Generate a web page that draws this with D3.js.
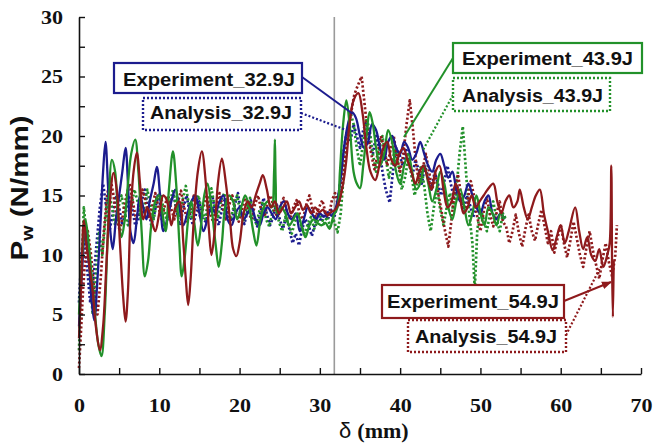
<!DOCTYPE html>
<html><head><meta charset="utf-8">
<script src="https://cdn.jsdelivr.net/npm/d3@7"></script>
<style>
html,body{margin:0;padding:0;background:#fff;}
svg{display:block;}
</style></head>
<body>
<svg id="chart" width="653" height="443"></svg>
<script>
// ---------- DATA ----------
const xTickValues = [0,5,10,15,20,25,30,35,40,45,50,55,60,65,70];
const xTickLabels = [0,10,20,30,40,50,60,70];
const yTickValues = [0,2.5,5,7.5,10,12.5,15,17.5,20,22.5,25,27.5,30];
const yTickLabels = [0,5,10,15,20,25,30];
const impactLine = 31.8;

const seriesNames = ["Analysis_32.9J","Analysis_43.9J","Analysis_54.9J","Experiment_32.9J","Experiment_43.9J","Experiment_54.9J"];

const exp329 = [[0,4],[0.4,9],[0.8,12.5],[1.2,10],[1.6,6],[1.9,4.5],[2.3,8],[2.7,13],[3.0,17],[3.3,19.5],[3.6,16],[3.9,12],[4.2,10.5],[4.6,13],[5.0,15],[5.4,17],[5.8,19],[6.1,16],[6.4,12],[6.8,11],[7.2,13],[7.6,15],[8.0,14],[8.4,13],[8.8,14.5],[9.3,16],[9.7,17.4],[10.1,15],[10.5,12],[11,13],[11.5,14.5],[12,15.5],[12.5,14],[13,12.5],[13.5,13.5],[14,14.5],[14.5,15],[15,13.5],[15.5,12],[16,13],[16.5,14],[17,13.5],[17.5,14.5],[18,15],[18.5,13],[19,12.5],[19.5,13.5],[20,14],[20.5,13],[21,13.5],[21.5,14],[22,13],[22.5,12.5],[23,13.5],[23.5,14],[24,13.5],[24.5,13],[25,14],[25.5,14.5],[26,13.5],[26.5,13],[27,13.5],[27.5,12],[28,13],[28.5,14],[29,13.5],[29.5,13],[30,13.5],[30.5,13.2],[31,13.6],[31.5,13.3],[32,14],[32.5,16],[33,19],[33.5,21],[34,22],[34.5,21.5],[35,20],[35.5,19],[36,19.5],[36.5,21],[37,20.5],[37.5,19],[38,18],[38.5,19.5],[39,20],[39.5,19],[40,18.5],[40.5,19.5],[41,19],[41.5,18],[42,18.5],[42.5,19.5],[43,18.5],[43.5,17.5],[44,17],[44.5,18],[45,18.5],[45.5,17.5],[46,16.5],[46.5,17],[47,15.5],[47.5,14.5],[48,15],[48.5,16],[49,15],[49.5,14],[50,13.5],[50.5,14.5],[51,15],[51.5,13.5],[52,13],[52.5,13.5],[53,13]];

const exp439 = [[0,5],[0.4,10],[0.8,13],[1.2,11],[1.6,8],[2.0,5],[2.4,2.5],[2.8,1.5],[3.2,5],[3.6,12],[4.1,18],[4.5,17],[4.9,13],[5.3,11.5],[5.7,13],[6.1,16],[6.5,18.5],[7.0,19.7],[7.4,17],[7.8,12],[8.2,8.2],[8.6,9.5],[9.0,12.5],[9.5,14.5],[10,15],[10.5,13],[10.8,12],[11.2,15.5],[11.7,18.7],[12.1,16],[12.5,11],[12.8,8.2],[13.2,10],[13.6,13],[14.0,14.5],[14.4,12.5],[14.8,10.8],[15.2,12.5],[15.6,15],[16.0,16],[16.5,14],[17.0,11],[17.4,9.0],[17.8,11],[18.2,14],[18.7,15],[19.2,14.5],[19.7,13],[20.2,14],[20.7,15],[21.2,14],[21.7,12],[22.1,10.8],[22.6,13],[23,14],[23.5,14.5],[24,14],[24.3,17],[24.4,19.7],[24.5,16],[24.7,13.5],[25.2,14],[25.7,13.5],[26.2,12.5],[26.7,13],[27.2,13.5],[27.7,12.5],[28.2,11.5],[28.7,12.5],[29.2,13],[29.7,12.7],[30.2,12.5],[30.7,12.7],[31.2,12.2],[31.7,13.3],[32.2,14],[32.5,17],[32.9,21],[33.3,23],[33.7,21],[34.2,17],[34.6,16],[35.0,15.6],[35.4,17.5],[35.8,20],[36.2,22],[36.6,21],[37,19],[37.5,17.5],[38,18.5],[38.5,20.5],[39,19.5],[39.5,17],[40,16],[40.5,17.5],[41,18.5],[41.5,17],[42,15.5],[42.5,16],[43,17.5],[43.5,16],[44,14.5],[44.5,15.5],[45,17],[45.5,16],[46,14],[46.5,13],[47,14.5],[47.5,15.5],[48,14],[48.5,12.5],[49,13.5],[49.5,15],[50,13.5],[50.5,12.5],[51,14],[51.5,13.5],[52,12.5],[52.5,13.5],[53,13]];

const exp549 = [[0,3],[0.3,8],[0.6,12.9],[0.9,11],[1.3,9],[1.7,7],[2.1,4],[2.6,2.0],[3.0,4],[3.4,9],[3.8,14],[4.3,16.9],[4.7,15.5],[5.1,11],[5.5,6.5],[5.8,4.4],[6.1,7],[6.4,13],[6.8,17],[7.2,18.6],[7.6,16],[8.0,13],[8.5,14],[9,13],[9.5,12],[10,13.5],[10.5,15],[11,14.5],[11.5,12.5],[12,14],[12.5,14.5],[13,11],[13.3,8],[13.6,5.8],[13.9,8],[14.3,13],[14.8,17],[15.3,18.7],[15.8,16],[16.2,12],[16.5,10],[16.9,12],[17.3,16],[17.8,18.1],[18.3,16],[18.8,13],[19.2,10.5],[19.6,9.9],[20,11],[20.5,13.5],[21,14.5],[21.5,14],[22,15],[22.5,16],[22.9,16.7],[23.4,15.5],[23.9,14],[24.4,14.5],[24.9,13.5],[25.4,14],[25.9,14.5],[26.4,13.5],[26.9,14],[27.4,14.5],[27.9,13.8],[28.4,14.2],[28.9,13.5],[29.4,14],[29.9,13.6],[30.4,13.8],[30.9,13.4],[31.4,13.6],[31.9,13.8],[32.4,14.5],[32.9,16],[33.3,18],[33.7,21],[34.2,23],[34.8,23.6],[35.3,22],[35.8,19],[36.3,17],[36.9,16.3],[37.4,17.5],[37.9,19],[38.4,19.5],[38.9,18],[39.4,17.5],[39.9,18.5],[40.4,19],[40.9,18],[41.4,17],[41.9,16],[42.4,17],[42.9,17.5],[43.4,16.5],[43.9,15.5],[44.4,17],[44.9,17.5],[45.4,15.5],[45.9,14],[46.4,14.5],[46.9,16],[47.4,15],[47.9,13.5],[48.4,14],[48.9,15],[49.4,14],[49.9,14.5],[50.4,15],[50.9,15.5],[51.6,16],[52.1,14.5],[52.6,13.5],[53.1,14.5],[53.6,15],[54.1,14],[54.6,14.5],[54.9,15.5],[55.4,14],[55.9,13],[56.4,14],[56.9,15],[57.4,15.5],[57.9,13.5],[58.4,12],[59,10.4],[59.5,11.5],[60,12.5],[60.5,11],[61,12],[61.8,14.0],[62.3,12],[62.8,10.5],[63.3,11.5],[63.8,10],[64.3,9.5],[64.8,10.5],[65.3,9],[65.8,10],[66.1,11],[66.3,17.5],[66.4,9],[66.5,4.8],[66.6,9.5]];

const ana329 = [[0,6],[0.3,10],[0.6,12],[1,9],[1.4,6],[1.8,8],[2.2,11],[2.6,14],[3,16],[3.4,14],[3.8,12],[4.2,13.5],[4.6,15],[5,14],[5.4,12.5],[5.8,13.5],[6.2,15],[6.6,14],[7,12.5],[7.4,13],[7.8,14.5],[8.2,15.5],[8.6,14],[9,12.5],[9.4,13.5],[9.8,15],[10.2,14],[10.6,12],[11,13],[11.4,14.5],[11.8,15],[12.2,13.5],[12.6,12.5],[13,14],[13.4,15],[13.8,13.5],[14.2,12.5],[14.6,13.5],[15,14.5],[15.4,13],[15.8,12.8],[16.2,14],[16.6,15],[17,13.5],[17.4,12.5],[17.8,13.8],[18.2,14.8],[18.6,13.2],[19,12.8],[19.4,14.2],[19.8,15.2],[20.2,13.5],[20.6,12.6],[21,13.8],[21.4,14.6],[21.8,13.2],[22.2,12.4],[22.6,13.6],[23,14.8],[23.4,13.4],[23.8,12.5],[24.2,13.2],[24.6,14.4],[25,13],[25.4,12.2],[25.8,13.2],[26.2,12.2],[26.6,11],[27,11.8],[27.4,10.8],[27.8,12.2],[28.2,13],[28.6,12.5],[29,11.6],[29.4,12.6],[29.8,13.4],[30.2,12.8],[30.6,13.6],[31,13],[31.4,13.8],[31.8,13.2],[32.2,14.2],[32.6,16.5],[33,19],[33.4,20.5],[33.8,19.5],[34.2,21],[34.6,20],[35,19],[35.4,20.5],[35.8,21.2],[36.2,19.5],[36.6,18.5],[37,20],[37.4,19],[37.8,17],[38.2,15.5],[38.7,14.4],[39.1,17],[39.5,19],[39.9,18.5],[40.3,17.5],[40.7,19],[41.1,18],[41.5,16.5],[41.9,18],[42.3,17.2],[42.7,16],[43.1,17.5],[43.5,16.5],[43.9,15.5],[44.3,17],[44.7,16],[45.1,15],[45.5,16.2],[45.9,17.5],[46.3,16],[46.7,14.8],[47.1,15.8],[47.5,14.5],[47.9,13.8],[48.3,15],[48.7,14.2],[49.1,13.2],[49.5,14],[50,13.5]];

const ana439 = [[0,2],[0.3,8],[0.6,14],[0.9,12],[1.3,9],[1.7,5],[2.1,8],[2.5,12],[2.9,10],[3.3,13],[3.7,15.5],[4.1,14],[4.5,12.5],[4.9,14],[5.3,15],[5.7,13.5],[6.1,12.5],[6.5,14],[6.9,15.5],[7.3,14.5],[7.7,13],[8.1,14],[8.5,15.5],[8.9,14.2],[9.3,13],[9.7,14.5],[10.1,15.2],[10.5,14],[10.9,13],[11.3,14.2],[11.7,15.5],[12.1,14],[12.5,13.2],[12.9,14.6],[13.3,15.8],[13.7,14.2],[14.1,13],[14.5,14.4],[14.9,15],[15.3,13.6],[15.7,13],[16.1,14.5],[16.5,15.6],[16.9,14],[17.3,13.2],[17.7,14.6],[18.1,15.2],[18.5,13.8],[18.9,13],[19.3,14.2],[19.7,15],[20.1,13.5],[20.5,12.8],[20.9,14],[21.3,14.8],[21.7,13.4],[22.1,12.6],[22.5,13.8],[22.9,14.5],[23.3,13],[23.7,12.4],[24.1,13.6],[24.5,14.2],[24.9,12.8],[25.3,12],[25.7,13.2],[26.1,12.6],[26.5,11.8],[26.9,12.8],[27.3,13.4],[27.7,12.4],[28.1,11.8],[28.5,12.6],[28.9,13.2],[29.3,12.2],[29.7,12.8],[30.1,13.4],[30.5,12.6],[30.9,13.2],[31.3,12.4],[31.7,13],[32.2,11.9],[32.6,13.5],[33,17],[33.4,20],[33.8,22],[34.2,21],[34.6,19],[35,17.5],[35.4,19.5],[35.8,21.5],[36.2,20.5],[36.6,18.5],[37,17],[37.4,18.8],[37.8,20],[38.2,18.2],[38.6,16.5],[39,17.8],[39.4,19],[39.8,17.5],[40.2,15.5],[40.6,16.5],[41,18],[41.4,16.8],[41.8,15],[42.2,16.2],[42.6,17.5],[43,15.8],[43.4,13.5],[43.8,12],[44.2,14],[44.6,15.5],[45,13.8],[45.4,12.5],[45.8,14],[46.2,15.2],[46.6,13.8],[47,15.5],[47.4,18.5],[47.8,20.8],[48.2,17],[48.6,13.5],[49,11],[49.3,7.1],[49.6,12],[50,14],[50.4,13],[50.8,12],[51.2,13.5],[51.6,14.5],[52,13],[52.4,12],[52.8,13.5],[53.2,13]];

const ana549 = [[0,0.5],[0.2,3],[0.5,7],[0.8,10],[1.1,12],[1.5,10],[1.9,7],[2.3,5],[2.7,8],[3.1,12],[3.5,15],[3.9,16.5],[4.3,15],[4.7,13],[5.1,12],[5.5,13.5],[5.9,15],[6.3,16],[6.7,14.5],[7.1,13],[7.5,14],[7.9,15.5],[8.3,14.5],[8.7,13.2],[9.1,14],[9.5,15.2],[9.9,14],[10.3,13],[10.7,14.2],[11.1,15],[11.5,13.8],[11.9,13],[12.3,14.4],[12.7,15.4],[13.1,14],[13.5,12.8],[13.9,13.8],[14.3,15],[14.7,14.2],[15.1,13.2],[15.5,14],[15.9,15],[16.3,13.6],[16.7,12.8],[17.1,14],[17.5,15.2],[17.9,14],[18.3,13],[18.7,14.2],[19.1,15],[19.5,13.6],[19.9,12.8],[20.3,13.8],[20.7,14.8],[21.1,13.6],[21.5,13],[21.9,14.2],[22.3,15],[22.7,13.8],[23.1,13.2],[23.5,14.4],[23.9,15],[24.3,13.8],[24.7,13.2],[25.1,14.2],[25.5,14.8],[25.9,13.6],[26.3,13],[26.7,14],[27.1,14.6],[27.5,13.4],[27.9,13],[28.3,14.2],[28.7,15],[29.1,13.8],[29.5,13.2],[29.9,14],[30.3,14.6],[30.7,13.6],[31.1,13.2],[31.5,14.6],[31.9,15.2],[32.3,14],[32.7,15.5],[33.1,18],[33.5,20.5],[33.9,22],[34.3,23.5],[34.7,24.2],[35.2,25],[35.6,22.5],[36,20],[36.4,18.5],[36.8,17.2],[37.2,18.5],[37.6,20],[38,19],[38.4,17.5],[38.8,18.8],[39.2,20],[39.6,18.2],[40,17],[40.4,18.5],[40.8,21],[41.2,23],[41.6,20.5],[42,17.5],[42.4,16],[42.8,17.2],[43.2,18.5],[43.6,17],[44,15.5],[44.4,16.8],[44.8,15],[45.2,13.5],[45.6,12],[46,10.7],[46.4,13],[46.8,15.5],[47.2,16.8],[47.6,15],[48,13.5],[48.4,14.5],[48.8,16.2],[49.2,15],[49.6,13.2],[50,12],[50.4,13.6],[50.8,14.8],[51.2,13.4],[51.6,12.4],[52,13.5],[52.4,14.5],[52.8,12.8],[53.2,12.4],[53.6,11],[54,12],[54.4,13.4],[54.8,11.8],[55.2,10.7],[55.6,12.2],[56,13.4],[56.4,12],[56.8,11.2],[57.2,12.6],[57.6,13.8],[58,12.4],[58.4,11],[58.8,12],[59.2,10.2],[59.6,11.4],[60,12.6],[60.4,11],[60.8,9.8],[61.2,11.2],[61.6,12.8],[62,11.4],[62.4,10],[62.8,9],[63.2,10.6],[63.6,12],[64,10.4],[64.4,9.2],[64.8,8],[65.2,9.6],[65.6,11],[66,9.4],[66.4,8.2],[66.8,10],[67,12.5]];

// ---------- CHART ----------
const BLUE = "#1c1c8e", GREEN = "#22912a", RED = "#8e1a1c";
const svg = d3.select("#chart");
const x = d3.scaleLinear().domain([0,70]).range([79,641]);
const y = d3.scaleLinear().domain([0,30]).range([374,17]);

// impact reference line
svg.append("line")
  .attr("x1", x(impactLine)).attr("x2", x(impactLine))
  .attr("y1", y(0)).attr("y2", y(30))
  .attr("stroke", "#9a9a9a").attr("stroke-width", 1.6);

const smooth = d3.line().x(d => x(d[0])).y(d => y(d[1])).curve(d3.curveCatmullRom.alpha(0.5));
const straight = d3.line().x(d => x(d[0])).y(d => y(d[1]));

const series = [
  {data: ana329, color: BLUE, dotted: true},
  {data: ana439, color: GREEN, dotted: true},
  {data: ana549, color: RED, dotted: true},
  {data: exp329, color: BLUE, dotted: false},
  {data: exp439, color: GREEN, dotted: false},
  {data: exp549, color: RED, dotted: false}
];
series.forEach((s,i) => {
  svg.append("path")
    .attr("class", "series s" + i)
    .attr("d", s.dotted ? straight(s.data) : smooth(s.data))
    .attr("fill", "none")
    .attr("stroke", s.color)
    .attr("stroke-width", s.dotted ? 2.7 : 2.3)
    .attr("stroke-dasharray", s.dotted ? "2.2,2.2" : null)
    .attr("stroke-linejoin", "round");
});

// axes
const xAxis = d3.axisBottom(x).tickValues(xTickValues).tickSize(-6).tickSizeOuter(0).tickPadding(25)
  .tickFormat(d => xTickLabels.includes(d) ? d : "");
const yAxis = d3.axisLeft(y).tickValues(yTickValues).tickSize(-6).tickSizeOuter(0).tickPadding(16)
  .tickFormat(d => yTickLabels.includes(d) ? d : "");

const gx = svg.append("g").attr("transform", `translate(0,${y(0)})`).call(xAxis);
const gy = svg.append("g").attr("transform", `translate(${x(0)},0)`).call(yAxis);
[gx, gy].forEach(g => {
  g.select(".domain").attr("stroke", "#111").attr("stroke-width", 1.6);
  g.selectAll(".tick line").attr("stroke", "#111").attr("stroke-width", 1.4);
  g.selectAll(".tick text")
    .attr("fill", "#111")
    .style("font-family", "'Liberation Serif','Times New Roman',serif")
    .style("font-weight", "bold")
    .style("font-size", "19px")
    .each(function(){
      const t = d3.select(this).text();
      if (t.length) d3.select(this).attr("textLength", t.length === 1 ? 11 : 22).attr("lengthAdjust", "spacingAndGlyphs");
    });
});

// axis titles
const xt = svg.append("text").attr("x", 339).attr("y", 438).attr("fill", "#111");
xt.append("tspan").text("δ ").style("font-family", "'Liberation Sans',Arial,sans-serif").style("font-size", "22px");
xt.append("tspan").text("(mm)").style("font-family", "'Liberation Serif','Times New Roman',serif").style("font-weight", "bold").style("font-size", "22px");

const yt = svg.append("text")
  .attr("transform", "translate(28,188) rotate(-90)")
  .attr("text-anchor", "middle")
  .attr("textLength", 145).attr("lengthAdjust", "spacingAndGlyphs")
  .attr("fill", "#111")
  .style("font-family", "'Liberation Sans',Arial,sans-serif")
  .style("font-weight", "bold")
  .style("font-size", "24px");
yt.append("tspan").text("P");
yt.append("tspan").text("w").attr("dy", 5).style("font-size", "16px");
yt.append("tspan").text(" (N/mm)").attr("dy", -5);

// annotation boxes
const annos = [
  {label: seriesNames[3], color: BLUE, dotted:false, box:[114,63,188,30], tx:123, ty:86, tl:172, lead:[[302,77],[353,114]], arrow:false},
  {label: seriesNames[0], color: BLUE, dotted:true,  box:[143,98,158,32], tx:150, ty:119, tl:142, lead:[[301,113],[346,130]], arrow:false},
  {label: seriesNames[4], color: GREEN, dotted:false, box:[453,43,189,30], tx:462, ty:65, tl:171, lead:[[453,58],[404,137]], arrow:false},
  {label: seriesNames[1], color: GREEN, dotted:true,  box:[453,78,157,33], tx:462, ty:102, tl:141, lead:[[453,95],[423,150]], arrow:false},
  {label: seriesNames[5], color: RED, dotted:false, box:[382,285,182,33], tx:387, ty:308, tl:172, lead:[[564,301],[611,282]], arrow:true},
  {label: seriesNames[2], color: RED, dotted:true,  box:[408,320,158,32], tx:415, ty:343, tl:142, lead:[[566,335],[600,268]], arrow:false}
];
const defs = svg.append("defs");
defs.append("marker").attr("id","arrowRed").attr("viewBox","0 0 10 10").attr("refX",9).attr("refY",5)
  .attr("markerWidth",5).attr("markerHeight",5).attr("orient","auto")
  .append("path").attr("d","M0,1 L10,5 L0,9 Z").attr("fill",RED);

annos.forEach(a => {
  svg.append("line")
    .attr("x1", a.lead[0][0]).attr("y1", a.lead[0][1])
    .attr("x2", a.lead[1][0]).attr("y2", a.lead[1][1])
    .attr("stroke", a.color).attr("stroke-width", a.dotted ? 2.2 : 2)
    .attr("stroke-dasharray", a.dotted ? "2,2" : null)
    .attr("marker-end", a.arrow ? "url(#arrowRed)" : null);
  svg.append("rect")
    .attr("x", a.box[0]).attr("y", a.box[1]).attr("width", a.box[2]).attr("height", a.box[3])
    .attr("fill", "#fff").attr("stroke", a.color)
    .attr("stroke-width", a.dotted ? 2.4 : 2.2)
    .attr("stroke-dasharray", a.dotted ? "2,2" : null);
  svg.append("text")
    .attr("x", a.tx).attr("y", a.ty)
    .attr("textLength", a.tl).attr("lengthAdjust", "spacingAndGlyphs")
    .attr("fill", "#111")
    .style("font-family", "'Liberation Sans',Arial,sans-serif")
    .style("font-weight", "bold")
    .style("font-size", "18px")
    .text(a.label);
});
</script>
</body></html>
